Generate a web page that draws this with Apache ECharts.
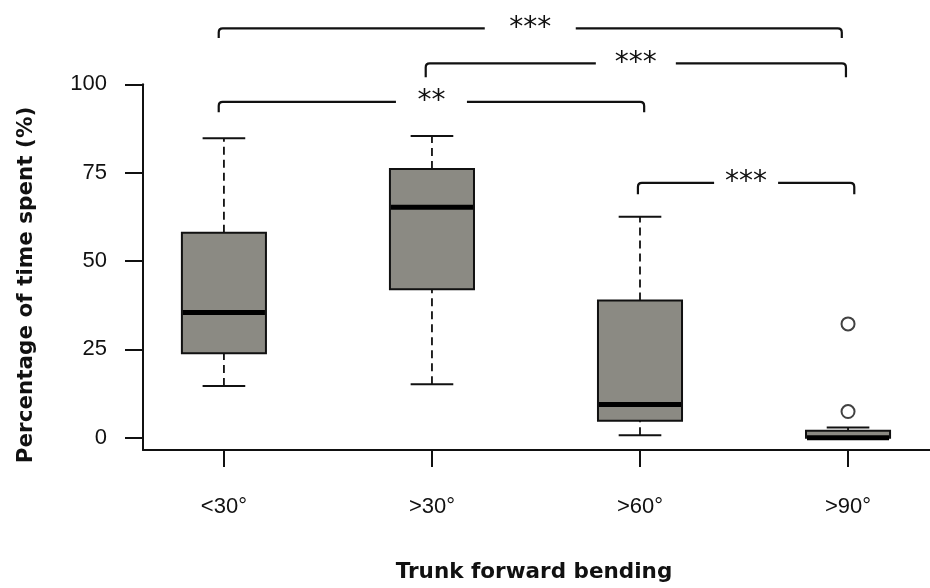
<!DOCTYPE html>
<html>
<head>
<meta charset="utf-8">
<script src="https://cdn.jsdelivr.net/npm/echarts@6/dist/echarts.min.js"></script>
<style>
html,body{margin:0;padding:0;background:#fff;}
#chart{width:930px;height:588px;}
</style>
</head>
<body>
<div id="chart"></div>
<script>
// ---- data ----
const categories = ['<30°', '>30°', '>60°', '>90°'];
const whiskerLow  = [14.6, 15.1, 0.7, 0];
const q1          = [23.9, 42.0, 4.8, 0];
const median      = [35.4, 65.2, 9.4, 0];
const q3          = [58.0, 76.0, 38.8, 2.0];
const whiskerHigh = [84.7, 85.4, 62.5, 2.9];
const outlierCat  = [3, 3];
const outlierVal  = [32.2, 7.4];
const yTickValues = [0, 25, 50, 75, 100];

// significance brackets (category positions and levels in data units)
const bracketFrom  = [-0.025, 0.97, -0.025, 1.99];
const bracketTo    = [2.97, 2.99, 2.02, 3.03];
const bracketLevel = [115.8, 105.9, 95.0, 72.1];
const bracketTip   = [113.1, 102.0, 92.1, 68.9];
const bracketLabel = ['***', '***', '**', '***'];

// ---- styling constants ----
const bracketGapPx = [91, 80, 71, 64];
const BOX_W = 0.404;   // in category units
const CAP_W = 0.205;
const FILL = '#8b8a83';

const boxData = categories.map((c, i) => [i, whiskerLow[i], q1[i], median[i], q3[i], whiskerHigh[i]]);
const outlierData = outlierCat.map((c, i) => [c, outlierVal[i]]);
const bracketData = bracketFrom.map((f, i) => [f, bracketTo[i], bracketLevel[i], bracketTip[i], i]);

function renderBox(params, api) {
  const x = api.value(0);
  const lo = api.coord([x, api.value(1)]);
  const b1 = api.coord([x, api.value(2)]);
  const md = api.coord([x, api.value(3)]);
  const b3 = api.coord([x, api.value(4)]);
  const hi = api.coord([x, api.value(5)]);
  const bw = api.size([BOX_W, 0])[0];
  const cw = api.size([CAP_W, 0])[0];
  const cx = lo[0];
  const dash = {stroke: '#111', lineWidth: 1.8, lineDash: [8, 5]};
  const solid = {stroke: '#111', lineWidth: 2};
  const children = [];
  if (hi[1] < b3[1] - 1) {
    children.push({type: 'line', shape: {x1: cx, y1: b3[1], x2: cx, y2: hi[1]}, style: dash});
  }
  if (lo[1] > b1[1] + 1) {
    children.push({type: 'line', shape: {x1: cx, y1: lo[1], x2: cx, y2: b1[1]}, style: dash});
  }
  children.push({type: 'line', shape: {x1: cx - cw / 2, y1: hi[1], x2: cx + cw / 2, y2: hi[1]}, style: solid});
  if (lo[1] > b1[1] + 1) {
    children.push({type: 'line', shape: {x1: cx - cw / 2, y1: lo[1], x2: cx + cw / 2, y2: lo[1]}, style: solid});
  }
  children.push({type: 'rect', shape: {x: cx - bw / 2, y: b3[1], width: bw, height: b1[1] - b3[1]},
    style: {fill: FILL, stroke: '#111', lineWidth: 2}});
  children.push({type: 'line', shape: {x1: cx - bw / 2 + 1, y1: md[1], x2: cx + bw / 2 - 1, y2: md[1]},
    style: {stroke: '#000', lineWidth: 5}});
  return {type: 'group', children: children};
}

function renderBracket(params, api) {
  const i = api.value(4);
  const p1 = api.coord([api.value(0), api.value(2)]);
  const p2 = api.coord([api.value(1), api.value(2)]);
  const t1 = api.coord([api.value(0), api.value(3)]);
  const y = p1[1], ty = t1[1];
  const x1 = p1[0], x2 = p2[0];
  const mid = (x1 + x2) / 2;
  const g = bracketGapPx[i] / 2;
  const r = 4;
  const path = 'M' + x1 + ',' + ty + ' L' + x1 + ',' + (y + r) + ' Q' + x1 + ',' + y + ' ' + (x1 + r) + ',' + y +
    ' L' + (mid - g) + ',' + y + ' M' + (mid + g) + ',' + y + ' L' + (x2 - r) + ',' + y +
    ' Q' + x2 + ',' + y + ' ' + x2 + ',' + (y + r) + ' L' + x2 + ',' + ty;
  return {type: 'group', children: [
    {type: 'path', shape: {pathData: path}, style: {stroke: '#111', lineWidth: 2.2, fill: null}},
    {type: 'text', x: mid, y: y, style: {text: bracketLabel[i], font: '28px "DejaVu Sans"', fill: '#111',
      align: 'center', verticalAlign: 'middle'}}
  ]};
}

const chart = echarts.init(document.getElementById('chart'), null, {renderer: 'canvas'});
chart.setOption({
  animation: false,
  backgroundColor: '#fff',
  grid: {left: 143, right: 0, top: 84.3, bottom: 138},
  xAxis: {
    type: 'value', min: -0.389, max: 3.394,
    splitLine: {show: false},
    axisLine: {onZero: false, lineStyle: {color: '#111', width: 2}},
    axisTick: {show: true, length: 17, customValues: [0, 1, 2, 3], lineStyle: {color: '#111', width: 2}},
    axisLabel: {customValues: [0, 1, 2, 3], margin: 46, color: '#111', fontSize: 22,
      fontFamily: '"Liberation Sans", Arial, sans-serif', formatter: v => categories[Math.round(v)]}
  },
  yAxis: {
    type: 'value', min: -3.48, max: 100,
    splitLine: {show: false},
    axisLine: {show: true, onZero: false, lineStyle: {color: '#111', width: 2}},
    axisTick: {show: true, length: 18, customValues: yTickValues, lineStyle: {color: '#111', width: 2}},
    axisLabel: {customValues: yTickValues, margin: 36, color: '#111', fontSize: 22,
      fontFamily: '"Liberation Sans", Arial, sans-serif'}
  },
  graphic: [
    {type: 'text', x: 26, y: 285, rotation: Math.PI / 2,
      style: {text: 'Percentage of time spent (%)', font: 'bold 21.5px "DejaVu Sans"', fill: '#111',
        align: 'center', verticalAlign: 'middle'}},
    {type: 'text', x: 534, y: 572,
      style: {text: 'Trunk forward bending', font: 'bold 21.5px "DejaVu Sans"', fill: '#111',
        align: 'center', verticalAlign: 'middle'}}
  ],
  series: [
    {type: 'custom', name: 'box', renderItem: renderBox, data: boxData, clip: false,
      encode: {x: 0, y: [1, 2, 3, 4, 5]}},
    {type: 'scatter', name: 'outliers', data: outlierData, symbol: 'circle', symbolSize: 13,
      itemStyle: {color: '#fff', borderColor: '#111', borderWidth: 2}},
    {type: 'custom', name: 'brackets', renderItem: renderBracket, data: bracketData, clip: false,
      encode: {x: [0, 1], y: [2, 3]}}
  ]
});
</script>
</body>
</html>
